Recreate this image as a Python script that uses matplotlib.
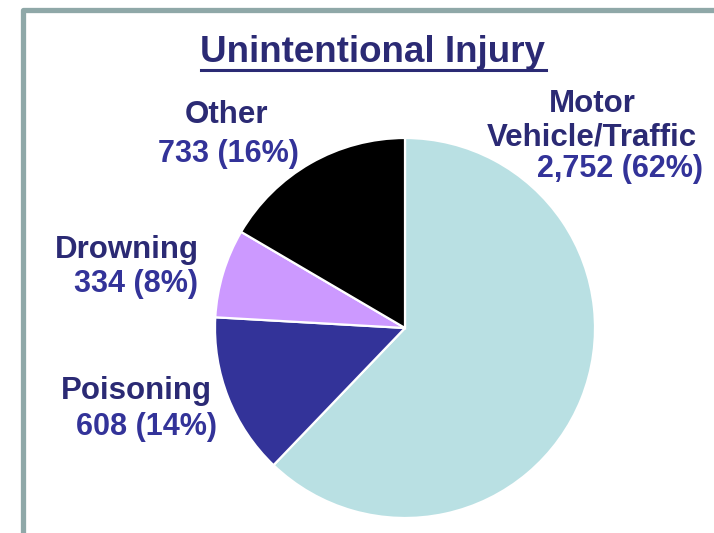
import matplotlib.pyplot as plt
from matplotlib.lines import Line2D

W_PX, H_PX = 714, 533
DPI = 100

TITLE = "Unintentional Injury"
CATEGORIES = ["Motor\nVehicle/Traffic", "Poisoning", "Drowning", "Other"]
COUNTS = [2752, 608, 334, 733]
PERCENTS = [62, 14, 8, 16]
COLORS = ["#b9e0e3", "#333399", "#cc99ff", "#000000"]

NAME_COLOR = "#2b2a74"
NUM_COLOR = "#333399"
BORDER_COLOR = "#8fa8a8"

# label anchors in pixels (x centre, baseline y) for name and number lines
NAME_POS = [(592, 145), (136, 399), (127, 258), (227, 123)]
NUM_POS = [(620, 177), (146, 435), (136, 292), (228, 162)]

plt.rcParams["font.family"] = ["Liberation Sans", "DejaVu Sans"]


def fx(x):
    return x / W_PX


def fy(y):
    return 1 - y / H_PX


fig = plt.figure(figsize=(W_PX / DPI, H_PX / DPI), dpi=DPI)

# pie: centre (405, 328), radius 190 px
cx, cy, r = 405, 328, 190
ax = fig.add_axes([fx(cx - r), fy(cy + r), 2 * r / W_PX, 2 * r / H_PX])
ax.pie(
    COUNTS,
    colors=COLORS,
    startangle=90,
    counterclock=False,
    radius=1.0,
    wedgeprops=dict(edgecolor="white", linewidth=1.6),
)
ax.set_xlim(-1, 1)
ax.set_ylim(-1, 1)
ax.set_aspect("auto")
ax.axis("off")

for name, cnt, pct, (nx, ny), (mx, my) in zip(CATEGORIES, COUNTS, PERCENTS, NAME_POS, NUM_POS):
    fig.text(fx(nx), fy(ny), name, ha="center", va="baseline", fontsize=22.5,
             fontweight="bold", color=NAME_COLOR, linespacing=1.12, multialignment="center")
    fig.text(fx(mx), fy(my), f"{cnt:,} ({pct}%)", ha="center", va="baseline", fontsize=22,
             fontweight="bold", color=NUM_COLOR)

title = fig.text(fx(373), fy(62), TITLE, ha="center", va="baseline", fontsize=26.5,
                 fontweight="bold", color=NAME_COLOR)

# underline under the title
fig.canvas.draw()
bb = title.get_window_extent()
fig.add_artist(Line2D([bb.x0 / W_PX, bb.x1 / W_PX], [fy(70), fy(70)],
                      transform=fig.transFigure, color=NAME_COLOR, linewidth=2.2))

# frame on left and top
fig.add_artist(Line2D([fx(22.5), fx(22.5), fx(720)], [fy(540), fy(9.5), fy(9.5)],
                      transform=fig.transFigure, color=BORDER_COLOR, linewidth=3.8,
                      solid_joinstyle="round"))

fig.savefig("out.png", dpi=DPI)
